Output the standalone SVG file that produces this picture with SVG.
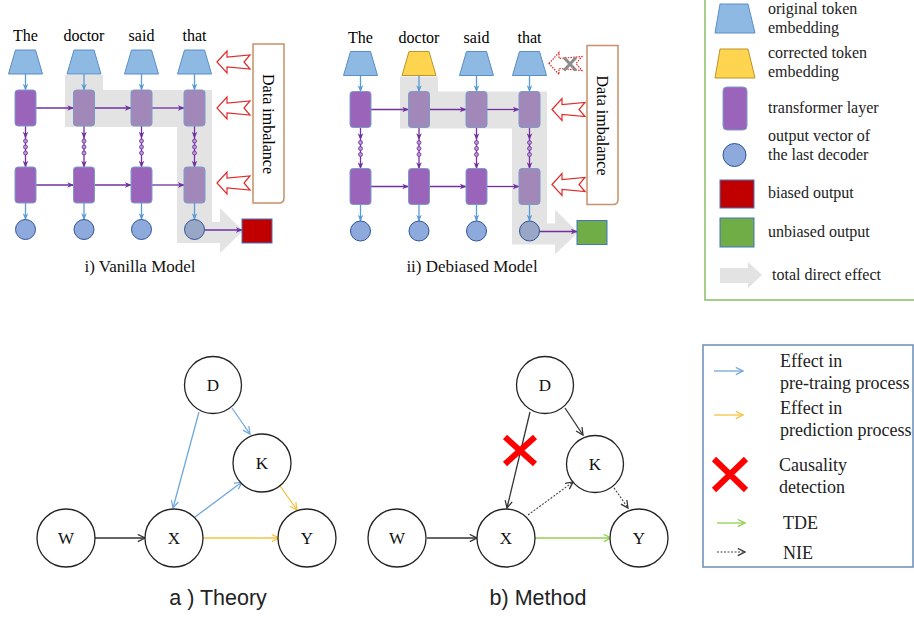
<svg xmlns="http://www.w3.org/2000/svg" xmlns:xlink="http://www.w3.org/1999/xlink" width="914" height="617" viewBox="0 0 914 617">
<style>
.tok{font-family:"Liberation Serif",serif;font-size:16px;fill:#000;text-anchor:middle}
.trap{fill:#8DB9E2;stroke:#5B8EC8;stroke-width:1}
.trap.y{fill:#FFD44F;stroke:#B8962E}
.lay{fill:#9A64BA;stroke:#7C9CC8;stroke-width:1}
.lay.m{fill:#A287B9}
.out{fill:#8EA9DB;stroke:#2F5597;stroke-width:1}
.out.m{fill:#98A7C6}
.ba{stroke:#5B9BD5;stroke-width:1.3;fill:none;marker-end:url(#hb)}
.pa{stroke:#7030A0;stroke-width:1.3;fill:none;marker-end:url(#hp)}
.pl{stroke:#7030A0;stroke-width:1.3;fill:none}
.dot{fill:#B996D2;stroke:#7030A0;stroke-width:0.8}
.tde{fill:#E3E3E3}
.ha{fill:#fff;stroke:#E02B2B;stroke-width:1.2}
.ha.d{stroke-dasharray:1.5 1.2}
.dbox{fill:#fff;stroke:#C8906A;stroke-width:1.5}
.vt{font-family:"Liberation Serif",serif;font-size:16px;text-anchor:middle}
.cap{font-family:"Liberation Serif",serif;font-size:17px;text-anchor:middle;fill:#111}
.lt{font-family:"Liberation Serif",serif;font-size:16px;fill:#222}
.nc{fill:#fff;stroke:#222;stroke-width:1.3}
.nl{font-family:"Liberation Serif",serif;font-size:17px;text-anchor:middle;fill:#111}
.gcap{font-family:"Liberation Sans",sans-serif;font-size:21.5px;text-anchor:middle;fill:#222}
.blt{font-family:"Liberation Serif",serif;font-size:18px;fill:#222}
.eb{stroke:#6FA8DC;stroke-width:1.3;fill:none;marker-end:url(#ob)}
.ey{stroke:#F5C343;stroke-width:1.3;fill:none;marker-end:url(#oy)}
.eg{stroke:#92D050;stroke-width:1.3;fill:none;marker-end:url(#og)}
.ek{stroke:#333;stroke-width:1.3;fill:none;marker-end:url(#ok)}
.ed{stroke:#444;stroke-width:1.1;fill:none;stroke-dasharray:2 1.5;marker-end:url(#ok)}
.rx{stroke:#FF0000;stroke-width:6;stroke-linecap:butt}
</style>
<defs>
<marker id="hb" viewBox="0 0 10 10" refX="9" refY="5" markerWidth="7" markerHeight="7" orient="auto" markerUnits="userSpaceOnUse"><path d="M0,1 L10,5 L0,9 L3,5 Z" fill="#5B9BD5"/></marker>
<marker id="hp" viewBox="0 0 10 10" refX="9" refY="5" markerWidth="7" markerHeight="7" orient="auto" markerUnits="userSpaceOnUse"><path d="M0,1 L10,5 L0,9 L3,5 Z" fill="#7030A0"/></marker>
<marker id="ob" viewBox="0 0 10 10" refX="9" refY="5" markerWidth="9" markerHeight="9" orient="auto" markerUnits="userSpaceOnUse"><path d="M1,1 L9,5 L1,9" fill="none" stroke="#6FA8DC" stroke-width="1.4"/></marker>
<marker id="oy" viewBox="0 0 10 10" refX="9" refY="5" markerWidth="9" markerHeight="9" orient="auto" markerUnits="userSpaceOnUse"><path d="M1,1 L9,5 L1,9" fill="none" stroke="#F5C343" stroke-width="1.4"/></marker>
<marker id="og" viewBox="0 0 10 10" refX="9" refY="5" markerWidth="9" markerHeight="9" orient="auto" markerUnits="userSpaceOnUse"><path d="M1,1 L9,5 L1,9" fill="none" stroke="#92D050" stroke-width="1.4"/></marker>
<marker id="ok" viewBox="0 0 10 10" refX="9" refY="5" markerWidth="9" markerHeight="9" orient="auto" markerUnits="userSpaceOnUse"><path d="M1,1 L9,5 L1,9" fill="none" stroke="#333" stroke-width="1.4"/></marker>
<path id="trap" d="M-10,0 L10,0 L17,24 L-17,24 Z"/>
<path id="harrow" d="M0,0 L10,-11 L10,-5 L33,-7 L27,0 L33,7 L10,5 L10,11 Z"/>
<g id="dots"><circle cx="0" cy="141" r="2"/><circle cx="0" cy="147" r="2"/><circle cx="0" cy="153" r="2"/></g>
</defs>
<rect width="914" height="617" fill="#fff"/>

<!-- ===== i) Vanilla Model ===== -->
<g id="vanilla">
  <polygon class="tde" points="65,75 103,75 103,90 212,90 212,222 220,222 220,208 243,231 220,253 220,243 177,243 177,127 65,127"/>
  <g id="v-connectors">
    <line class="ba" x1="25.5" y1="74" x2="25.5" y2="90"/>
    <line class="ba" x1="84" y1="74" x2="84" y2="90"/>
    <line class="ba" x1="141.5" y1="74" x2="141.5" y2="90"/>
    <line class="ba" x1="194.5" y1="74" x2="194.5" y2="90"/>
    <line class="pa" x1="36" y1="108" x2="73.5" y2="108"/>
    <line class="pa" x1="94.5" y1="108" x2="131" y2="108"/>
    <line class="pa" x1="152" y1="108" x2="184" y2="108"/>
    <line class="pa" x1="36" y1="185" x2="73.5" y2="185"/>
    <line class="pa" x1="94.5" y1="185" x2="131" y2="185"/>
    <line class="pa" x1="152" y1="185" x2="184" y2="185"/>
    <g>
      <line class="pa" x1="25.5" y1="126" x2="25.5" y2="138"/><line class="pa" x1="25.5" y1="155" x2="25.5" y2="167"/><line class="pl" x1="25.5" y1="138" x2="25.5" y2="155"/>
      <line class="pa" x1="84" y1="126" x2="84" y2="138"/><line class="pa" x1="84" y1="155" x2="84" y2="167"/><line class="pl" x1="84" y1="138" x2="84" y2="155"/>
      <line class="pa" x1="141.5" y1="126" x2="141.5" y2="138"/><line class="pa" x1="141.5" y1="155" x2="141.5" y2="167"/><line class="pl" x1="141.5" y1="138" x2="141.5" y2="155"/>
      <line class="pa" x1="194.5" y1="126" x2="194.5" y2="138"/><line class="pa" x1="194.5" y1="155" x2="194.5" y2="167"/><line class="pl" x1="194.5" y1="138" x2="194.5" y2="155"/>
      <use href="#dots" x="25.5" class="dot"/><use href="#dots" x="84" class="dot"/><use href="#dots" x="141.5" class="dot"/><use href="#dots" x="194.5" class="dot"/>
    </g>
    <line class="ba" x1="25.5" y1="203" x2="25.5" y2="219.5"/>
    <line class="ba" x1="84" y1="203" x2="84" y2="219.5"/>
    <line class="ba" x1="141.5" y1="203" x2="141.5" y2="219.5"/>
    <line class="ba" x1="194.5" y1="203" x2="194.5" y2="219.5"/>
    <line class="pa" x1="204.5" y1="230" x2="242" y2="230"/>
  </g>
  <g id="v-tok-the"><text class="tok" x="25.5" y="41">The</text><use href="#trap" x="25.5" y="50" class="trap"/></g>
  <g id="v-tok-doctor"><text class="tok" x="84" y="41">doctor</text><use href="#trap" x="84" y="50" class="trap"/></g>
  <g id="v-tok-said"><text class="tok" x="141.5" y="41">said</text><use href="#trap" x="141.5" y="50" class="trap"/></g>
  <g id="v-tok-that"><text class="tok" x="194.5" y="41">that</text><use href="#trap" x="194.5" y="50" class="trap"/></g>
  <g id="v-l1-1"><rect class="lay" x="15" y="90" width="21" height="36" rx="3"/></g>
  <g id="v-l1-2"><rect class="lay m" x="73.5" y="90" width="21" height="36" rx="3"/></g>
  <g id="v-l1-3"><rect class="lay m" x="131" y="90" width="21" height="36" rx="3"/></g>
  <g id="v-l1-4"><rect class="lay m" x="184" y="90" width="21" height="36" rx="3"/></g>
  <g id="v-l2-1"><rect class="lay" x="15" y="167" width="21" height="36" rx="3"/></g>
  <g id="v-l2-2"><rect class="lay" x="73.5" y="167" width="21" height="36" rx="3"/></g>
  <g id="v-l2-3"><rect class="lay" x="131" y="167" width="21" height="36" rx="3"/></g>
  <g id="v-l2-4"><rect class="lay m" x="184" y="167" width="21" height="36" rx="3"/></g>
  <g id="v-o-1"><circle class="out" cx="25.5" cy="229.5" r="10"/></g>
  <g id="v-o-2"><circle class="out" cx="84" cy="229.5" r="10"/></g>
  <g id="v-o-3"><circle class="out" cx="141.5" cy="229.5" r="10"/></g>
  <g id="v-o-4"><circle class="out m" cx="194.5" cy="229.5" r="10"/></g>
  <g id="v-result"><rect x="242" y="219" width="30" height="24" fill="#C00000" stroke="#4472C4" stroke-width="1"/></g>
  <g id="v-imbalance">
    <use href="#harrow" x="217" y="62" class="ha"/>
    <use href="#harrow" x="217" y="108" class="ha"/>
    <use href="#harrow" x="217" y="183" class="ha"/>
    <path class="dbox" d="M253,44 H284 V198 Q284,203 279,203 H253 Z"/>
    <text class="vt" transform="translate(263,124) rotate(90)">Data imbalance</text>
  </g>
  <text class="cap" x="140" y="272">i) Vanilla Model</text>
</g>

<!-- ===== ii) Debiased Model ===== -->
<g id="debiased" transform="translate(335,1.5)">
  <polygon class="tde" points="65,75 103,75 103,90 212,90 212,222 220,222 220,208 243,231 220,253 220,243 177,243 177,127 65,127"/>
  <g id="d-connectors">
    <line class="ba" x1="25.5" y1="74" x2="25.5" y2="90"/>
    <line class="ba" x1="84" y1="74" x2="84" y2="90"/>
    <line class="ba" x1="141.5" y1="74" x2="141.5" y2="90"/>
    <line class="ba" x1="194.5" y1="74" x2="194.5" y2="90"/>
    <line class="pa" x1="36" y1="108" x2="73.5" y2="108"/>
    <line class="pa" x1="94.5" y1="108" x2="131" y2="108"/>
    <line class="pa" x1="152" y1="108" x2="184" y2="108"/>
    <line class="pa" x1="36" y1="185" x2="73.5" y2="185"/>
    <line class="pa" x1="94.5" y1="185" x2="131" y2="185"/>
    <line class="pa" x1="152" y1="185" x2="184" y2="185"/>
    <g>
      <line class="pa" x1="25.5" y1="126" x2="25.5" y2="138"/><line class="pa" x1="25.5" y1="155" x2="25.5" y2="167"/><line class="pl" x1="25.5" y1="138" x2="25.5" y2="155"/>
      <line class="pa" x1="84" y1="126" x2="84" y2="138"/><line class="pa" x1="84" y1="155" x2="84" y2="167"/><line class="pl" x1="84" y1="138" x2="84" y2="155"/>
      <line class="pa" x1="141.5" y1="126" x2="141.5" y2="138"/><line class="pa" x1="141.5" y1="155" x2="141.5" y2="167"/><line class="pl" x1="141.5" y1="138" x2="141.5" y2="155"/>
      <line class="pa" x1="194.5" y1="126" x2="194.5" y2="138"/><line class="pa" x1="194.5" y1="155" x2="194.5" y2="167"/><line class="pl" x1="194.5" y1="138" x2="194.5" y2="155"/>
      <use href="#dots" x="25.5" class="dot"/><use href="#dots" x="84" class="dot"/><use href="#dots" x="141.5" class="dot"/><use href="#dots" x="194.5" class="dot"/>
    </g>
    <line class="ba" x1="25.5" y1="203" x2="25.5" y2="219.5"/>
    <line class="ba" x1="84" y1="203" x2="84" y2="219.5"/>
    <line class="ba" x1="141.5" y1="203" x2="141.5" y2="219.5"/>
    <line class="ba" x1="194.5" y1="203" x2="194.5" y2="219.5"/>
    <line class="pa" x1="204.5" y1="230" x2="242" y2="230"/>
  </g>
  <g id="d-tok-the"><text class="tok" x="25.5" y="41">The</text><use href="#trap" x="25.5" y="50" class="trap"/></g>
  <g id="d-tok-doctor"><text class="tok" x="84" y="41">doctor</text><use href="#trap" x="84" y="50" class="trap y"/></g>
  <g id="d-tok-said"><text class="tok" x="141.5" y="41">said</text><use href="#trap" x="141.5" y="50" class="trap"/></g>
  <g id="d-tok-that"><text class="tok" x="194.5" y="41">that</text><use href="#trap" x="194.5" y="50" class="trap"/></g>
  <g id="d-l1-1"><rect class="lay" x="15" y="90" width="21" height="36" rx="3"/></g>
  <g id="d-l1-2"><rect class="lay m" x="73.5" y="90" width="21" height="36" rx="3"/></g>
  <g id="d-l1-3"><rect class="lay m" x="131" y="90" width="21" height="36" rx="3"/></g>
  <g id="d-l1-4"><rect class="lay m" x="184" y="90" width="21" height="36" rx="3"/></g>
  <g id="d-l2-1"><rect class="lay" x="15" y="167" width="21" height="36" rx="3"/></g>
  <g id="d-l2-2"><rect class="lay" x="73.5" y="167" width="21" height="36" rx="3"/></g>
  <g id="d-l2-3"><rect class="lay" x="131" y="167" width="21" height="36" rx="3"/></g>
  <g id="d-l2-4"><rect class="lay m" x="184" y="167" width="21" height="36" rx="3"/></g>
  <g id="d-o-1"><circle class="out" cx="25.5" cy="229.5" r="10"/></g>
  <g id="d-o-2"><circle class="out" cx="84" cy="229.5" r="10"/></g>
  <g id="d-o-3"><circle class="out" cx="141.5" cy="229.5" r="10"/></g>
  <g id="d-o-4"><circle class="out m" cx="194.5" cy="229.5" r="10"/></g>
  <g id="d-result"><rect x="242" y="219" width="30" height="24" fill="#70AD47" stroke="#4472C4" stroke-width="1"/></g>
  <g id="d-imbalance">
    <use href="#harrow" x="214" y="62" class="ha d"/>
    <path d="M229,56 L241,69 M241,56 L229,69" stroke="#8C8C8C" stroke-width="3" fill="none"/>
    <use href="#harrow" x="217" y="108" class="ha"/>
    <use href="#harrow" x="217" y="183" class="ha"/>
    <path class="dbox" d="M252,44 H283 V198 Q283,203 278,203 H252 Z"/>
    <text class="vt" transform="translate(262,124) rotate(90)">Data imbalance</text>
  </g>
  <text class="cap" x="137" y="270.5">ii) Debiased Model</text>
</g>

<!-- ===== Top legend ===== -->
<g id="legend-top">
  <rect x="705" y="-2" width="215" height="302" fill="none" stroke="#8CBF6A" stroke-width="1.5"/>
  <g id="lg-orig"><path d="M720,4 L748,4 L755,33 L715,33 Z" class="trap"/><text class="lt" x="768" y="14">original token</text><text class="lt" x="768" y="33">embedding</text></g>
  <g id="lg-corr"><path d="M720,49 L748,49 L755,78 L715,78 Z" class="trap y"/><text class="lt" x="768" y="58">corrected token</text><text class="lt" x="768" y="77">embedding</text></g>
  <g id="lg-layer"><rect class="lay" x="723" y="87" width="24" height="43" rx="4"/><text class="lt" x="768" y="113">transformer layer</text></g>
  <g id="lg-out"><circle class="out" cx="734.5" cy="155" r="11.5"/><text class="lt" x="768" y="141">output vector of</text><text class="lt" x="768" y="160">the last decoder</text></g>
  <g id="lg-biased"><rect x="720" y="180" width="34" height="28" fill="#C00000" stroke="#4472C4" stroke-width="1"/><text class="lt" x="768" y="198">biased output</text></g>
  <g id="lg-unbiased"><rect x="720" y="218" width="34" height="29" fill="#70AD47" stroke="#4472C4" stroke-width="1"/><text class="lt" x="768" y="237">unbiased output</text></g>
  <g id="lg-tde"><polygon class="tde" points="720,268 748,268 748,262 762,275 748,288 748,283 720,283"/><text class="lt" x="772" y="280">total direct effect</text></g>
</g>

<!-- ===== a) Theory ===== -->
<g id="theory">
  <g id="t-connectors">
    <line class="ek" x1="95" y1="538" x2="145" y2="538"/>
    <line class="eb" x1="199" y1="412" x2="173" y2="508"/>
    <line class="eb" x1="232" y1="408" x2="250" y2="434"/>
    <line class="eb" x1="195" y1="517" x2="242" y2="482"/>
    <line class="ey" x1="278" y1="483" x2="297" y2="510"/>
    <line class="ey" x1="203" y1="538" x2="279" y2="538"/>
  </g>
  <g id="t-D"><circle class="nc" cx="213" cy="385" r="28.5"/><text class="nl" x="213" y="391">D</text></g>
  <g id="t-K"><circle class="nc" cx="262" cy="463" r="29"/><text class="nl" x="262" y="469">K</text></g>
  <g id="t-W"><circle class="nc" cx="66" cy="538" r="29"/><text class="nl" x="66" y="544">W</text></g>
  <g id="t-X"><circle class="nc" cx="174" cy="538" r="29"/><text class="nl" x="174" y="544">X</text></g>
  <g id="t-Y"><circle class="nc" cx="307" cy="538" r="29"/><text class="nl" x="307" y="544">Y</text></g>
  <text class="gcap" x="218" y="605">a ) Theory</text>
</g>

<!-- ===== b) Method ===== -->
<g id="method">
  <g id="m-connectors">
    <line class="ek" x1="427" y1="538" x2="477" y2="538"/>
    <line class="ek" x1="530" y1="412" x2="507" y2="508"/>
    <line class="ek" x1="565" y1="408" x2="583" y2="435"/>
    <line class="ed" x1="528" y1="515" x2="573" y2="482"/>
    <line class="ed" x1="612" y1="485" x2="628" y2="508"/>
    <line class="eg" x1="535" y1="538" x2="611" y2="538"/>
  </g>
  <g id="m-D"><circle class="nc" cx="545" cy="385" r="28.5"/><text class="nl" x="545" y="391">D</text></g>
  <g id="m-K"><circle class="nc" cx="595" cy="464" r="28.5"/><text class="nl" x="595" y="470">K</text></g>
  <g id="m-W"><circle class="nc" cx="397" cy="538" r="29"/><text class="nl" x="397" y="544">W</text></g>
  <g id="m-X"><circle class="nc" cx="506" cy="538" r="29"/><text class="nl" x="506" y="544">X</text></g>
  <g id="m-Y"><circle class="nc" cx="639" cy="538" r="29"/><text class="nl" x="639" y="544">Y</text></g>
  <g id="m-cut"><path class="rx" d="M505,437 L535,464 M535,437 L505,464"/></g>
  <text class="gcap" x="538" y="605">b) Method</text>
</g>

<!-- ===== Bottom legend ===== -->
<g id="legend-bottom">
  <rect x="703" y="345" width="210" height="222" fill="none" stroke="#6A8CB8" stroke-width="1.5"/>
  <g id="lb-pre"><line class="eb" x1="714" y1="371" x2="743" y2="371"/><text class="blt" x="780" y="367">Effect in</text><text class="blt" x="780" y="389">pre-traing process</text></g>
  <g id="lb-pred"><line class="ey" x1="714" y1="415" x2="743" y2="415"/><text class="blt" x="780" y="414">Effect in</text><text class="blt" x="780" y="436">prediction process</text></g>
  <g id="lb-cause"><path class="rx" d="M714,459 L746,490 M746,459 L714,490" stroke-width="7"/><text class="blt" x="779" y="471">Causality</text><text class="blt" x="779" y="493">detection</text></g>
  <g id="lb-tde"><line class="eg" x1="717" y1="523" x2="745" y2="523"/><text class="blt" x="783" y="529">TDE</text></g>
  <g id="lb-nie"><line class="ed" x1="717" y1="552" x2="745" y2="552"/><text class="blt" x="783" y="559">NIE</text></g>
</g>
</svg>
